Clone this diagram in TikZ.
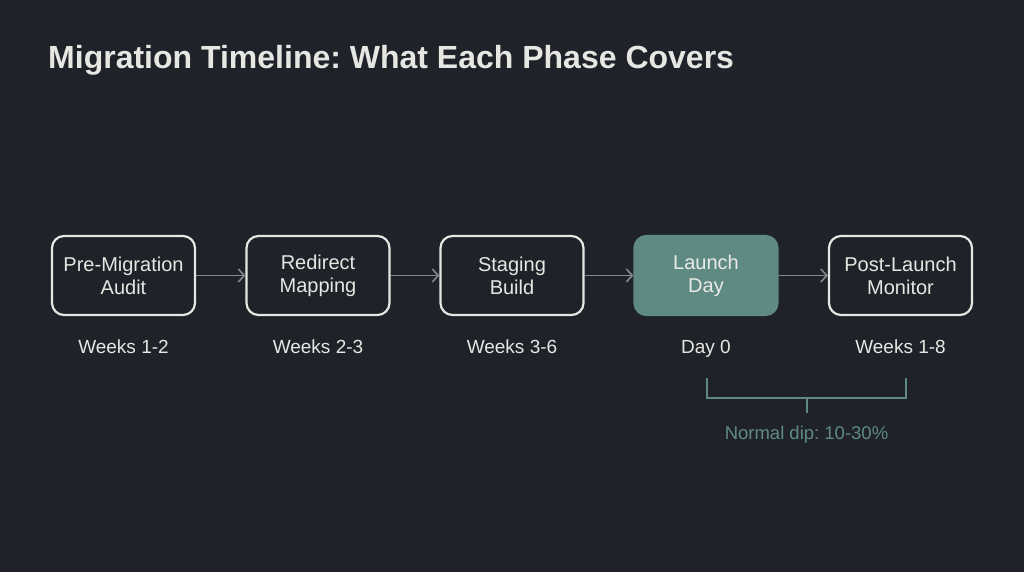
\documentclass[tikz,border=0pt]{standalone}
\usepackage{fontspec}
\setmainfont{Liberation Sans}
\usepackage{tikz}
\usetikzlibrary{arrows.meta}
\frenchspacing

\definecolor{bgDark}{HTML}{1F2329}
\definecolor{boxLine}{HTML}{E6E6E3}
\definecolor{launchFill}{HTML}{5F8A83}
\definecolor{arrowGrey}{HTML}{84888C}
\definecolor{dipTeal}{HTML}{5F8A83}

\begin{document}
\begin{tikzpicture}[
		x=1pt, y=-1pt,
		phaseBox/.style={rectangle, rounded corners=12pt, draw=boxLine, line width=2.2pt, fill=bgDark, text=boxLine, minimum width=143pt, minimum height=79pt, align=center, font=\fontsize{20}{23}\selectfont},
		launchBox/.style={phaseBox, draw=launchFill, fill=launchFill, text=boxLine!85},
		phaseLabel/.style={anchor=base, text=boxLine, font=\fontsize{19}{22}\selectfont},
		phaseArrow/.style={draw=arrowGrey, line width=1.6pt, -{Straight Barb[length=6pt, width=13pt]}}
	]
	
	\fill[bgDark] (0,0) rectangle (1024,572);
	\useasboundingbox (0,0) rectangle (1024,572);
	
	\node[anchor=base west, inner sep=0pt, text=boxLine, font=\fontsize{32}{38}\bfseries] (title) at (48,69) {Migration Timeline: What Each Phase Covers};
	
	\node[phaseBox] (phase1) at (123.5,275.5) {Pre-Migration\\Audit};
	\node[phaseBox] (phase2) at (318.0,275.5) {Redirect\\Mapping};
	\node[phaseBox] (phase3) at (512.0,275.5) {Staging\\Build};
	\node[launchBox] (phase4) at (706.0,275.5) {Launch\\Day};
	\node[phaseBox] (phase5) at (900.5,275.5) {Post-Launch\\Monitor};
	
	\node[phaseLabel] (label1) at (123.5,353) {Weeks 1-2};
	\node[phaseLabel] (label2) at (318.0,353) {Weeks 2-3};
	\node[phaseLabel] (label3) at (512.0,353) {Weeks 3-6};
	\node[phaseLabel] (label4) at (706.0,353) {Day 0};
	\node[phaseLabel] (label5) at (900.5,353) {Weeks 1-8};
	
	\draw [phaseArrow] (phase1) to (phase2);
	\draw [phaseArrow] (phase2) to (phase3);
	\draw [phaseArrow] (phase3) to (phase4);
	\draw [phaseArrow] (phase4) to (phase5);
	
	% bracket under launch and monitor
	\coordinate (dipLeft) at (707,378);
	\coordinate (dipRight) at (906,378);
	\coordinate (dipMid) at (806.5,398);
	\draw [dipTeal, line width=1.8pt] (dipLeft) -- (707,398) -- (906,398) -- (dipRight);
	\draw [dipTeal, line width=2pt] (dipMid) -- (806.5,413);
	\node[anchor=base, text=dipTeal, font=\fontsize{18.5}{22}\selectfont] (dipText) at (806.5,439) {Normal dip: 10-30\%};
\end{tikzpicture}
\end{document}
